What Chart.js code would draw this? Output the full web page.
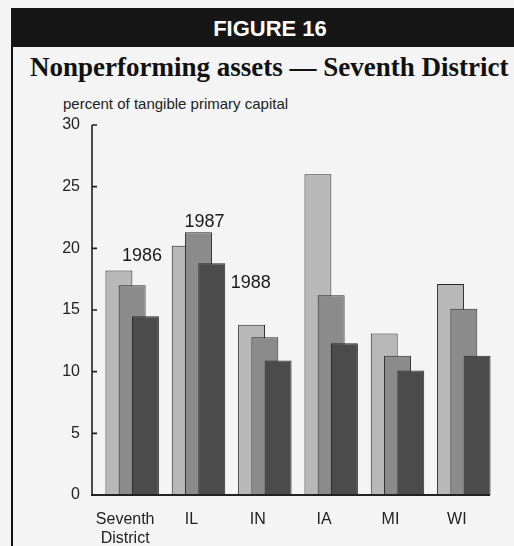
<!DOCTYPE html>
<html>
<head>
<meta charset="utf-8">
<script src="https://cdn.jsdelivr.net/npm/chart.js@4"></script>
<style>
    body {
        margin: 0;
        width: 514px;
        height: 546px;
        background: #f4f4f4;
        position: relative;
        overflow: hidden;
    }
    #frame {
        position: absolute;
        left: 11px;
        top: 8px;
        width: 503px;
        height: 538px;
        border-left: 2px solid #111;
    }
    #header {
        position: absolute;
        left: 11px;
        top: 8px;
        width: 488px;
        height: 39px;
        padding-left: 15px;
        background: #161616;
        color: #fff;
        font: bold 22px "Liberation Sans", Arial, sans-serif;
        line-height: 42px;
        text-align: center;
    }
    #title {
        position: absolute;
        left: 30px;
        top: 54px;
        font: bold 27px "Liberation Serif", "Times New Roman", serif;
        line-height: 27px;
        color: #111;
        white-space: nowrap;
    }
    #unit {
        position: absolute;
        left: 63px;
        top: 96px;
        font: 15px "Liberation Sans", Arial, sans-serif;
        line-height: 15px;
        color: #222;
        white-space: nowrap;
    }
    #chartBox {
        position: absolute;
        left: 13px;
        top: 88px;
        width: 501px;
        height: 458px;
    }
</style>
</head>
<body>
<div id="frame"></div>
<div id="header">FIGURE 16</div>
<div id="title">Nonperforming assets — Seventh District</div>
<div id="unit">percent of tangible primary capital</div>
<div id="chartBox"><canvas id="nplChart"></canvas></div>

<script>
const categories = [["Seventh", "District"], "IL", "IN", "IA", "MI", "WI"];
const years = ["1986", "1987", "1988"];

const values1986 = [18.2, 20.2, 13.8, 26.0, 13.1, 17.1];
const values1987 = [17.0, 21.3, 12.8, 16.2, 11.3, 15.1];
const values1988 = [14.5, 18.8, 10.9, 12.3, 10.1, 11.3];

const yTicks = [0, 5, 10, 15, 20, 25, 30];

const barColors = ["#b8b8b8", "#8b8b8b", "#4b4b4b"];
const AXIS_SHIFT = 7;

// draw 1986 first so later years sit in front
const drawOrder = {
    id: "drawOrder",
    beforeDatasetsDraw(chart) {
        chart.getSortedVisibleDatasetMetas()
            .slice()
            .sort((a, b) => a.index - b.index)
            .forEach(meta => meta.controller.draw());
        return false;
    }
};

// axis lines with inward ticks, and the year labels
const axesAndLabels = {
    id: "axesAndLabels",
    afterDraw(chart) {
        const ctx = chart.ctx;
        const area = chart.chartArea;
        const y = chart.scales.y;
        const axisX = area.left - AXIS_SHIFT;
        const top = y.getPixelForValue(yTicks[yTicks.length - 1]);
        const bottom = y.getPixelForValue(0);

        ctx.save();
        ctx.strokeStyle = "#222";
        ctx.lineWidth = 1.6;
        ctx.beginPath();
        ctx.moveTo(axisX, top);
        ctx.lineTo(axisX, bottom);
        yTicks.slice(1).forEach(v => {
            const py = y.getPixelForValue(v);
            ctx.moveTo(axisX, py);
            ctx.lineTo(axisX + 5, py);
        });
        ctx.stroke();

        ctx.lineWidth = 2;
        ctx.beginPath();
        ctx.moveTo(axisX - 1, bottom);
        ctx.lineTo(area.right - AXIS_SHIFT, bottom);
        ctx.stroke();

        const spots = [
            { cat: 0, dx: 23, dy: -15 },
            { cat: 1, dx: 6, dy: -10 },
            { cat: 1, dx: 39, dy: 20 }
        ];
        ctx.fillStyle = "#1a1a1a";
        ctx.font = "18px 'Liberation Sans', Arial, sans-serif";
        ctx.textAlign = "center";
        ctx.textBaseline = "middle";
        spots.forEach((s, i) => {
            const bar = chart.getDatasetMeta(i).data[s.cat];
            ctx.fillText(years[i], bar.x + s.dx, bar.y + s.dy);
        });
        ctx.restore();
    }
};

new Chart(
    document.getElementById("nplChart"),
    {
        type: "bar",

        data: {
            labels: categories,

            datasets: [values1986, values1987, values1988].map((vals, i) => ({
                label: years[i],
                data: vals,
                backgroundColor: barColors[i],
                borderColor: "#2a2a2a",
                borderWidth: 1,
                categoryPercentage: 0.6,
                barPercentage: 2.03
            }))
        },

        options: {
            responsive: true,
            maintainAspectRatio: false,
            animation: false,

            layout: {
                padding: { left: 20, right: 17, top: 37, bottom: 0 }
            },

            plugins: {
                legend: { display: false },
                tooltip: { enabled: false }
            },

            scales: {
                x: {
                    grid: { display: false },
                    border: { display: false },
                    ticks: {
                        color: "#222",
                        padding: 7.5,
                        labelOffset: -AXIS_SHIFT,
                        maxRotation: 0,
                        autoSkip: false,
                        font: { family: "'Liberation Sans', Arial, sans-serif", size: 16, lineHeight: 1.15 }
                    },
                    afterFit(scale) {
                        scale.height = 51;
                    }
                },
                y: {
                    min: 0,
                    max: 30,
                    grid: { display: false },
                    border: { display: false },
                    ticks: {
                        color: "#222",
                        padding: 11,
                        font: { family: "'Liberation Sans', Arial, sans-serif", size: 16 }
                    },
                    afterBuildTicks(scale) {
                        scale.ticks = yTicks.map(v => ({ value: v }));
                    },
                    afterFit(scale) {
                        scale.width = 66;
                    }
                }
            }
        },

        plugins: [drawOrder, axesAndLabels]
    }
);
</script>
</body>
</html>
